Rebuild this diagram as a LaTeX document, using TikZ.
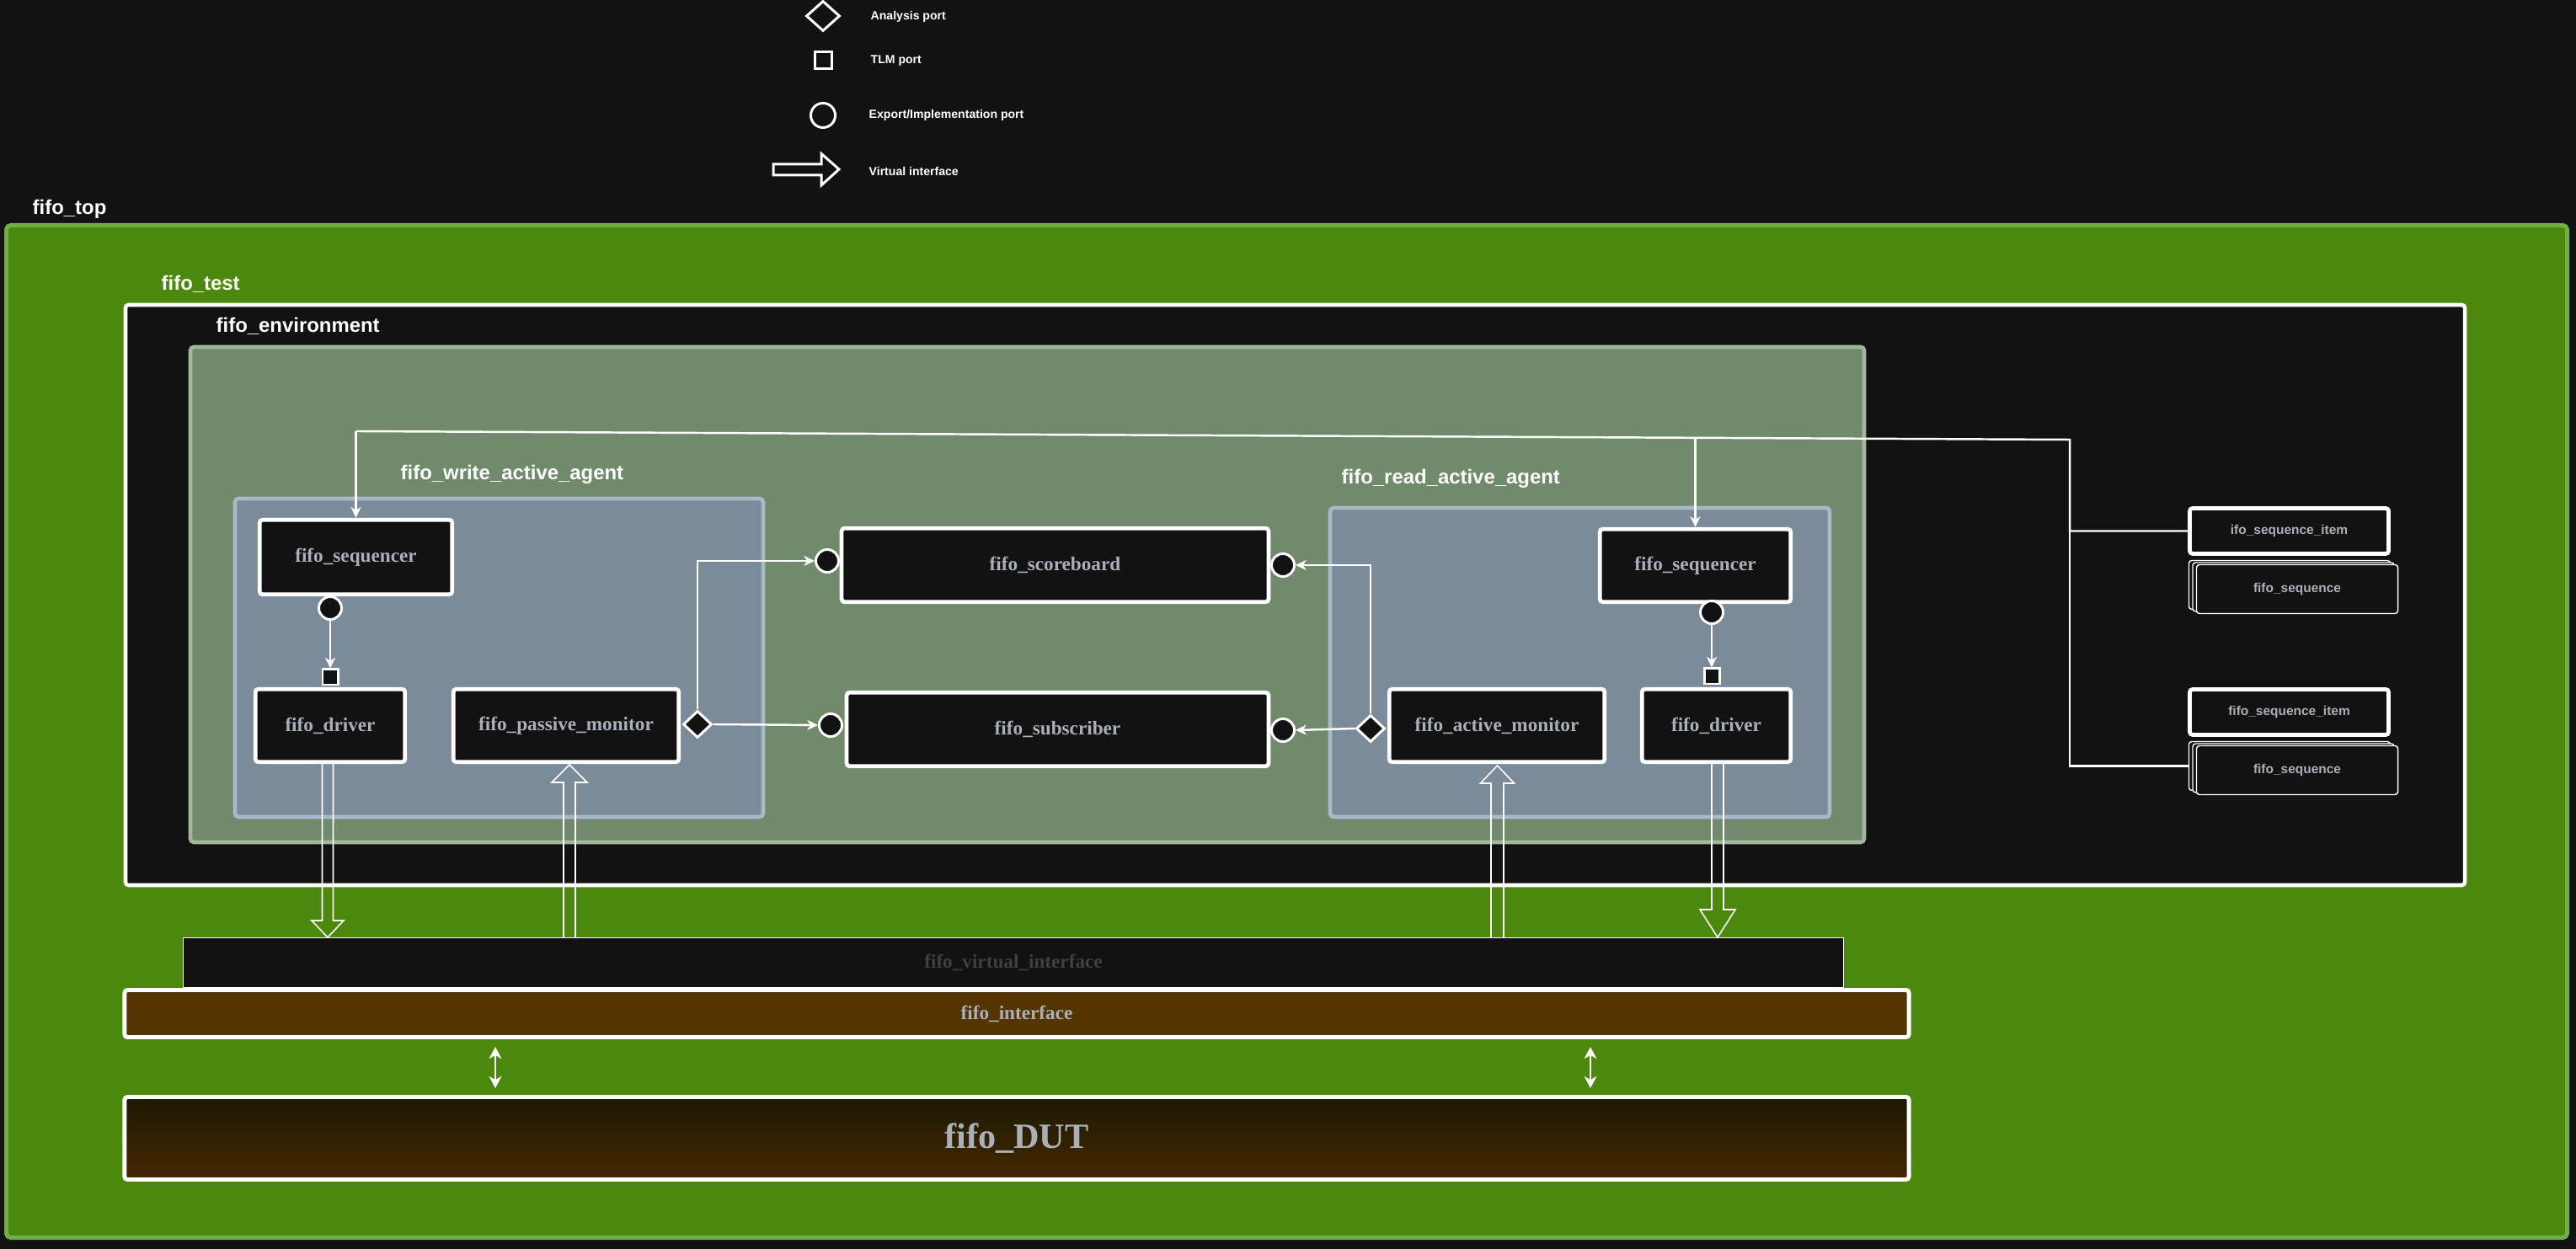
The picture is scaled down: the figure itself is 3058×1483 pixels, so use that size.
\documentclass[tikz,border=0pt]{standalone}
\usepackage{fontspec}
\setmainfont{Liberation Serif}
\newfontfamily\lsans{Liberation Sans}
\usetikzlibrary{arrows.meta,calc,shapes.geometric}
\definecolor{bg}{HTML}{121212}
\definecolor{topf}{HTML}{4C880D}
\definecolor{topb}{HTML}{70AE4A}
\definecolor{envf}{HTML}{718A6B}
\definecolor{envb}{HTML}{A3B79D}
\definecolor{agf}{HTML}{7C8B9A}
\definecolor{agb}{HTML}{A8B9CA}
\definecolor{gtxt}{HTML}{AAB0B9}
\definecolor{vitxt}{HTML}{404040}
\definecolor{ifcf}{HTML}{543500}
\definecolor{dutt}{HTML}{1C1A02}
\definecolor{dutb}{HTML}{442700}
\newcommand{\vifarrow}[6]{%
  \draw[vif] (#1-#5,#2) -- (#1-#5,#3) -- (#1-#6,#3) -- (#1,#4) -- (#1+#6,#3) -- (#1+#5,#3) -- (#1+#5,#2);}
\tikzset{
  ttl/.style={text=white, inner sep=0, anchor=west, font=\lsans\bfseries\fontsize{6.8pt}{8pt}\selectfont},
  lgd/.style={text=white, inner sep=0, anchor=west, font=\lsans\bfseries\fontsize{4pt}{5pt}\selectfont},
  comp/.style={draw=white, line width=1.35pt, fill=bg, rounded corners=1pt, inner sep=0,
    text=gtxt, font=\bfseries\fontsize{6.6pt}{8pt}\selectfont},
  item/.style={draw=white, line width=1.35pt, fill=bg, rounded corners=1pt, inner sep=0,
    minimum width=2.36cm, minimum height=0.54cm,
    text=gtxt, font=\lsans\bfseries\fontsize{4.4pt}{5pt}\selectfont},
  seqb/.style={draw=white, line width=0.4pt, fill=bg, rounded corners=1pt, inner sep=0,
    minimum width=2.39cm, minimum height=0.58cm,
    text=gtxt, font=\lsans\bfseries\fontsize{4.4pt}{5pt}\selectfont},
  cport/.style={circle, draw=white, line width=0.85pt, fill=bg, minimum size=0.27cm, inner sep=0},
  sport/.style={rectangle, draw=white, line width=0.85pt, fill=bg, minimum size=0.18cm, inner sep=0},
  dport/.style={diamond, draw=white, line width=0.85pt, fill=bg, minimum width=0.34cm, minimum height=0.32cm, inner sep=0},
  conn/.style={draw=white, line width=0.7pt},
  carr/.style={conn, -{Stealth[length=3.6pt,width=3.4pt,inset=1.1pt]}},
  vif/.style={draw=white, line width=0.45pt},
  dblarr/.style={draw=white, line width=0.65pt, {Stealth[length=4pt,width=4.2pt,inset=1.2pt]}-{Stealth[length=4pt,width=4.2pt,inset=1.2pt]}},
}
\begin{document}
\begin{tikzpicture}[x=0.01cm,y=-0.01cm]
\fill[bg] (0,0) rectangle (3058,1483);
\useasboundingbox (0,0) rectangle (3058,1483);

% ---------- legend ----------
\node[diamond, draw=white, line width=0.85pt, minimum width=0.40cm, minimum height=0.36cm, inner sep=0] (lgdia) at (977,19) {};
\node[lgd] (lgdiat) at (1033,20) {Analysis port};
\node[rectangle, draw=white, line width=0.85pt, minimum size=0.20cm, inner sep=0] (lgsq) at (977.5,71.5) {};
\node[lgd] (lgsqt) at (1033,72) {TLM port};
\node[circle, draw=white, line width=0.85pt, minimum size=0.29cm, inner sep=0] (lgci) at (977,137) {};
\node[lgd] (lgcit) at (1031,137) {Export/Implementation port};
\draw[white, line width=0.85pt] (918,195) -- (975,195) -- (975,182.5) -- (996,201) -- (975,220) -- (975,208) -- (918,208) -- cycle;
\node[lgd] (lgart) at (1031,203) {Virtual interface};

% ---------- containers ----------
\draw[draw=topb, fill=topf, line width=1.42pt, rounded corners=1.5pt] (7.5,267.5) rectangle (3047.5,1469.5);
\node[ttl] (ltop) at (38,248) {fifo\_top};
\draw[draw=white, fill=bg, line width=1.3pt, rounded corners=1pt] (149,362) rectangle (2926,1051);
\node[ttl] (ltest) at (191,337) {fifo\_test};
\draw[draw=envb, fill=envf, line width=1.3pt, rounded corners=1.2pt] (226,412) rectangle (2213,1000);
\node[ttl] (lenv) at (256,387) {fifo\_environment};
\draw[draw=agb, fill=agf, line width=1.3pt, rounded corners=1.2pt] (279,592) rectangle (906,970);
\node[ttl] (lwag) at (475,563) {fifo\_write\_active\_agent};
\draw[draw=agb, fill=agf, line width=1.3pt, rounded corners=1.2pt] (1579,603) rectangle (2172,970);
\node[ttl] (lrag) at (1592,568) {fifo\_read\_active\_agent};

% ---------- components ----------
\node[comp, minimum width=2.285cm, minimum height=0.885cm] (wseq) at (422.5,661.5) {fifo\_sequencer};
\node[comp, minimum width=1.775cm, minimum height=0.865cm] (wdrv) at (392,861.5) {fifo\_driver};
\node[comp, minimum width=2.675cm, minimum height=0.865cm] (pmon) at (672,861.5) {fifo\_passive\_monitor};
\node[comp, minimum width=5.065cm, minimum height=0.875cm] (sb) at (1252.5,671) {fifo\_scoreboard};
\node[comp, minimum width=5.005cm, minimum height=0.875cm] (sub) at (1255.5,866) {fifo\_subscriber};
\node[comp, minimum width=2.265cm, minimum height=0.865cm] (rseq) at (2012.5,671.5) {fifo\_sequencer};
\node[comp, minimum width=2.555cm, minimum height=0.865cm] (amon) at (1777,861.5) {fifo\_active\_monitor};
\node[comp, minimum width=1.765cm, minimum height=0.865cm] (rdrv) at (2037.5,861.5) {fifo\_driver};

% ---------- sequence items ----------
\node[item] (item1) at (2717.5,630.5) {ifo\_sequence\_item};
\node[seqb] (seq1c) at (2718,694.5) {};
\node[seqb] (seq1b) at (2722.5,697) {};
\node[seqb] (seq1) at (2727,699.5) {fifo\_sequence};
\node[item] (item2) at (2717.5,845.5) {fifo\_sequence\_item};
\node[seqb] (seq2c) at (2718,909.5) {};
\node[seqb] (seq2b) at (2722.5,912) {};
\node[seqb] (seq2) at (2727,914.5) {fifo\_sequence};

% ---------- ports ----------
\node[cport] (wsc) at (392,722) {};
\node[sport] (wsq) at (392,804) {};
\node[dport] (pmd) at (828,860) {};
\node[cport] (sbl) at (982,666) {};
\node[cport] (sbr) at (1523,671) {};
\node[cport] (subl) at (986,861) {};
\node[cport] (subr) at (1523,867) {};
\node[dport] (amd) at (1627,865) {};
\node[cport] (rsc) at (2032,727) {};
\node[sport] (rsq) at (2032,803) {};

% ---------- connectors ----------
\coordinate (j2) at (2457,522);
\coordinate (j3) at (422.5,512);
\coordinate (j4) at (2012.5,520);
\draw[conn] (item1.west) -| (j2) -- (j3);
\draw[carr] (j3) -- (wseq.north);
\draw[carr] (j4) -- (rseq.north);
\draw[conn] (j2 |- item1.west) |- (seq2c.west);

\draw[carr] (wsc.south) -- (wsq.north);
\draw[carr] (rsc.south) -- (rsq.north);
\draw[carr] (pmd.north) |- (sbl.west);
\draw[carr] (pmd.east) -- (subl.west);
\draw[carr] (amd.north) |- (sbr.east);
\draw[carr] (amd.west) -- (subr.east);

% ---------- interface / DUT ----------
\node[draw=white, line width=0.3pt, fill=bg, minimum width=19.69cm, minimum height=0.59cm, inner sep=0,
  text=vitxt, font=\bfseries\fontsize{6.6pt}{8pt}\selectfont] (vi) at (1203,1143) {fifo\_virtual\_interface};
\node[draw=white, line width=1.4pt, fill=ifcf, rounded corners=1pt, minimum width=21.17cm, minimum height=0.56cm, inner sep=0,
  text=gtxt, font=\bfseries\fontsize{6.6pt}{8pt}\selectfont] (ifc) at (1207,1203.5) {fifo\_interface};
\node[draw=white, line width=1.4pt, top color=dutt, bottom color=dutb, rounded corners=1pt, minimum width=21.17cm, minimum height=0.98cm, inner sep=0,
  text=gtxt, font=\bfseries\fontsize{12pt}{14pt}\selectfont] (dut) at (1207,1351.5) {fifo\_DUT};

% virtual interface arrows
\vifarrow{389}{907}{1093}{1113}{6.5}{19}
\vifarrow{676}{1113}{929}{908}{7}{21}
\vifarrow{1777.5}{1113}{930}{909}{7.5}{20}
\vifarrow{2039}{907}{1080}{1113}{7}{21}

% interface <-> DUT
\coordinate (da1) at (588,1243);
\coordinate (db1) at (588,1292);
\coordinate (da2) at (1888,1243);
\coordinate (db2) at (1888,1292);
\draw[dblarr] (da1) -- (db1);
\draw[dblarr] (da2) -- (db2);
\end{tikzpicture}
\end{document}
